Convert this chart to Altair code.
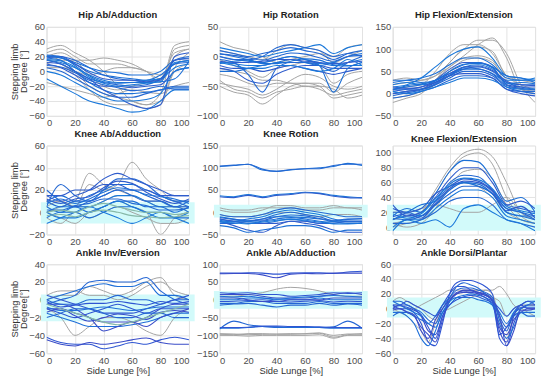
import altair as alt
import pandas as pd

X11 = [0, 10, 20, 30, 40, 50, 60, 70, 80, 90, 100]
X21 = list(range(0, 101, 5))

# ---------------- Hip Ab/Adduction ----------------
HIP_ABD_GRAY = [
    [30, 35, 25, 15, 0, -20, -40, -45, -30, 30, 35],
    [10, 15, 15, 15, 18, 15, 10, 0, -10, 20, 30],
    [20, 15, 0, -20, -30, -35, -40, -45, -40, 5, 25],
    [5, 5, 0, -5, 0, 5, 5, 0, -5, 10, 15],
    [15, 10, -5, -25, -40, -45, -45, -50, -45, 0, 10],
    [-15, -20, -25, -30, -35, -30, -25, -28, -30, -20, -15],
    [20, 25, 15, -5, -20, -25, -20, -15, -10, 25, 30],
    [25, 30, 20, 10, 10, 10, 5, 0, -15, 35, 40],
]
HIP_ABD_BLUE = [
    [20, 18, 10, 0, -5, -8, -10, -12, -5, 10, 15],
    [22, 20, 15, 5, -5, -10, -12, -13, -10, 15, 20],
    [15, 12, 5, -5, -12, -15, -15, -12, -10, 5, 10],
    [10, 5, -5, -15, -20, -20, -22, -20, -18, 0, 5],
    [18, 15, 0, -15, -25, -30, -30, -28, -25, -22, -22],
    [5, 0, -10, -20, -30, -35, -35, -30, -25, -20, -20],
    [-10, -20, -30, -40, -45, -50, -55, -52, -40, -25, -25],
    [12, 10, 0, -10, -25, -35, -45, -50, -45, 20, 25],
    [20, 18, 12, 5, 0, -2, -5, -5, 0, 15, 18],
    [15, 10, 0, -10, -15, -18, -20, -18, -10, 10, 12],
    [0, -5, -15, -25, -35, -40, -40, -38, -30, 0, 5],
    [18, 20, 10, -2, -10, -12, -12, -14, -12, 15, 17],
    [21, 19, 8, -6, -14, -16, -15, -15, -14, -10, 14],
    [8, 6, -2, -12, -18, -22, -26, -24, -20, -24, -24],
    [16, 14, 6, -8, -16, -20, -18, -16, -14, 12, 14],
]

# ---------------- Hip Rotation ----------------
HIP_ROT_GRAY = [
    [25, 15, 10, 0, -10, -5, 0, 5, 0, 15, 20],
    [-40, -55, -60, -70, -60, -55, -50, -55, -65, -60, -55],
    [-50, -60, -65, -80, -65, -50, -45, -50, -70, -65, -60],
    [-45, -50, -55, -65, -55, -40, -30, -35, -50, -55, -50],
    [-20, -25, -30, -40, -40, -45, -45, -45, -60, -45, -35],
    [-5, -15, -25, -35, -20, -15, -10, -15, -45, -30, -25],
    [10, 5, 0, -5, 10, 20, 15, 10, -10, 0, 10],
    [-30, -35, -45, -50, -45, -45, -50, -50, -55, -70, -65],
]
HIP_ROT_BLUE = [
    [0, -5, -8, -10, -5, 0, -5, -10, -15, -10, -5],
    [10, 5, 0, 5, 10, 15, 10, 5, -5, 5, 10],
    [-10, -12, -15, -15, -10, -10, -10, -12, -10, -15, -15],
    [-20, -25, -40, -45, -30, -20, -15, -15, -20, -20, -20],
    [5, 0, -5, -10, -5, 0, -5, -15, -60, -20, -10],
    [-5, -10, -30, -60, -20, -10, -10, -15, -25, -10, 0],
    [15, 10, 5, 0, 5, 10, 15, 20, 5, 15, 20],
    [-15, -20, -20, -25, -20, -15, -20, -25, -30, -25, -20],
    [-25, -25, -20, -15, -10, -5, -10, -15, -10, 0, 5],
    [0, -5, -5, 0, 15, 20, 15, 10, 0, 5, 0],
    [-10, -15, -20, -20, -15, -15, -20, -25, -20, -5, -15],
    [-8, -10, -10, -8, -5, -5, -8, -10, -12, -10, -8],
    [-12, -8, -6, -12, -12, -8, -4, -6, -14, -16, -10],
    [4, 2, -2, -6, 0, 6, 4, -2, -8, 0, 2],
]

# ---------------- Hip Flexion/Extension ----------------
HIP_FLEX_GRAY = [
    [-20, -10, 0, 30, 70, 100, 120, 120, 90, 20, -20],
    [10, 15, 20, 50, 90, 110, 110, 90, 40, 20, 10],
    [0, 5, 10, 30, 60, 85, 110, 125, 80, 10, 0],
    [30, 35, 30, 40, 70, 100, 105, 95, 40, 30, 25],
    [-10, -5, 5, 20, 50, 75, 80, 70, 30, 10, 0],
    [20, 25, 30, 40, 60, 80, 85, 75, 20, 10, 5],
]
HIP_FLEX_BLUE = [
    [10, 15, 20, 30, 45, 55, 55, 45, 25, 15, 10],
    [0, 5, 10, 20, 35, 50, 50, 40, 15, 5, 0],
    [20, 25, 20, 25, 40, 60, 65, 55, 30, 30, 35],
    [5, 10, 15, 30, 55, 70, 70, 60, 20, 15, 15],
    [25, 30, 35, 45, 65, 80, 80, 65, 35, 30, 30],
    [-10, -5, 5, 15, 30, 40, 40, 35, 10, 5, 5],
    [15, 20, 35, 60, 85, 100, 105, 80, 40, 35, 30],
    [0, 5, 10, 25, 40, 45, 45, 35, 10, 0, -5],
    [30, 30, 25, 30, 50, 65, 70, 60, 40, 35, 25],
    [10, 10, 10, 20, 40, 55, 60, 50, 25, 20, 20],
    [5, 0, 5, 15, 25, 35, 35, 30, 15, 10, 10],
    [15, 12, 15, 25, 45, 60, 62, 52, 28, 20, 18],
    [8, 18, 22, 28, 50, 66, 68, 58, 22, 25, 22],
    [-5, 2, 8, 22, 42, 58, 56, 44, 18, 12, 8],
]

# ---------------- Knee Ab/Adduction ----------------
KNEE_ABD_GRAY = [
    [5, 10, 5, 25, 20, 25, 45, 30, 20, 10, 10],
    [0, 5, 10, 35, 25, 20, 15, 10, 5, 5, 0],
    [0, -5, -10, 0, 5, 10, 5, 0, -20, -5, 0],
    [10, 10, 5, 5, 10, 15, 15, 10, 10, 5, 5],
    [-5, -10, 0, -5, 0, 5, 0, -5, -10, -10, -5],
]
KNEE_ABD_GREEN = [
    [0, 2, 0, 5, 8, 5, 2, 0, 0, -2, 0],
    [-3, -2, -4, 0, 2, 0, -3, -4, -5, -4, -3],
]
KNEE_ABD_BLUE = [
    [10, 15, 10, 15, 20, 25, 25, 20, 15, 10, 10],
    [5, 25, 15, 10, 20, 30, 30, 25, 15, 10, 5],
    [0, 5, 5, 5, 10, 15, 15, 10, 5, 5, 0],
    [15, 10, 15, 20, 30, 35, 30, 25, 20, 15, 15],
    [-5, 0, 0, -5, 0, 5, 5, 0, 0, -5, -5],
    [10, 5, 10, 10, 15, 20, 20, 15, 10, 5, 10],
    [-10, -5, 0, 5, 0, -5, -10, -5, 0, -5, -10],
    [15, 15, 20, 20, 25, 25, 20, 20, 15, 15, 15],
    [5, 0, 5, 0, 5, 10, 10, 5, 5, 0, 5],
    [20, 10, 5, 10, 15, 20, 15, 10, 10, 5, 5],
    [0, -5, -5, 0, 5, 10, 5, 0, -5, -5, 0],
    [12, 8, 12, 14, 22, 28, 26, 18, 12, 8, 12],
    [8, 12, 8, 12, 18, 22, 20, 16, 14, 12, 8],
    [2, 2, 6, 8, 12, 12, 8, 6, 2, 2, 4],
]

# ---------------- Knee Rotation ----------------
KNEE_ROT_GRAY = [
    [10, 5, 5, 10, 10, 10, 5, 5, 10, 10, 5],
    [5, 0, 0, 5, 15, 15, 10, 10, 15, 10, 10],
    [-5, -10, -10, -5, 0, 0, -5, -10, -5, -5, -10],
]
KNEE_ROT_BLUE = [
    [103, 105, 108, 95, 92, 95, 98, 100, 103, 110, 105],
    [104, 106, 108, 97, 92, 96, 98, 98, 105, 108, 108],
    [37, 35, 40, 35, 40, 42, 45, 43, 38, 35, 33],
    [35, 33, 38, 33, 38, 40, 44, 42, 36, 33, 32],
    [-15, -20, -20, -15, -10, -10, -12, -15, -20, -20, -20],
    [-25, -25, -20, -15, -5, 0, -5, -10, -20, -25, -25],
    [-10, -15, -20, -25, -20, -15, -20, -25, -20, -15, -15],
    [-20, -30, -40, -45, -30, -20, -25, -30, -40, -45, -45],
    [-30, -35, -45, -40, -35, -30, -30, -35, -45, -40, -40],
    [-5, -10, -10, -5, 5, 10, 5, 0, -5, -10, -10],
    [-20, -20, -15, -10, 0, 5, 0, -5, -15, -20, -20],
    [-15, -20, -25, -25, -25, -20, -20, -25, -25, -20, -20],
    [-18, -22, -22, -20, -15, -12, -15, -20, -22, -22, -22],
    [-12, -16, -18, -18, -10, -6, -8, -14, -18, -16, -14],
    [-22, -24, -26, -22, -18, -16, -18, -22, -26, -26, -24],
]

# ---------------- Knee Flexion/Extension ----------------
KNEE_FLEX_GRAY = [
    [5, 10, 20, 50, 80, 100, 105, 95, 60, 20, 10],
    [10, 15, 20, 45, 75, 95, 100, 85, 40, 15, 5],
    [0, 5, 10, 30, 50, 60, 55, 40, 20, 10, 5],
    [20, 20, 25, 30, 25, 20, 20, 30, 40, 20, 10],
    [5, 0, 5, 25, 55, 75, 78, 65, 30, 10, 5],
]
KNEE_FLEX_BLUE = [
    [10, 15, 15, 30, 50, 60, 58, 45, 20, 15, 10],
    [20, 20, 15, 35, 60, 70, 68, 50, 25, 20, 15],
    [0, 10, 10, 25, 40, 50, 50, 40, 15, 10, 5],
    [30, 15, 20, 40, 65, 80, 80, 60, 30, 25, 20],
    [15, 25, 20, 45, 75, 90, 88, 65, 35, 40, 20],
    [5, 5, 10, 20, 35, 40, 40, 30, 10, 5, 0],
    [-5, 10, 5, 10, 0, 25, 30, 20, 10, 5, -5],
    [25, 20, 25, 45, 55, 65, 62, 50, 30, 35, 25],
    [10, 20, 30, 35, 55, 60, 55, 45, 20, 15, 15],
    [12, 10, 15, 30, 45, 55, 55, 45, 25, 20, 10],
    [18, 12, 18, 38, 58, 66, 64, 52, 28, 22, 18],
    [14, 18, 12, 32, 52, 62, 60, 48, 22, 28, 12],
]

# ---------------- Ankle Inv/Eversion ----------------
ANK_INV_GRAY = [
    [0, 5, 5, 15, 10, 5, 10, 20, 25, 5, 0],
    [-10, -20, -40, -30, -20, -20, -25, -35, -40, -20, -10],
    [5, 10, 10, 5, 5, 0, 5, 15, 20, 10, 5],
]
ANK_INV_GREEN = [
    [-5, -10, -15, -20, -25, -28, -25, -20, -15, -10, -5],
]
ANK_INV_BLUE = [
    [-42, -48, -50, -50, -55, -52, -48, -50, -45, -42, -45],
    [-45, -50, -52, -48, -50, -48, -45, -43, -48, -50, -50],
    [-5, 0, 5, 20, 22, 20, 20, 25, 10, 0, -5],
    [0, 5, 10, 15, 18, 15, 15, 20, 5, 5, 0],
    [-10, -15, -20, -15, -10, -5, -10, -15, -10, -10, -10],
    [-5, -5, -10, -20, -25, -25, -25, -20, -10, -5, -5],
    [0, -5, -5, 0, 0, 5, 0, 0, -5, 0, 0],
    [-15, -20, -25, -30, -30, -30, -28, -25, -20, -15, -15],
    [5, 0, -5, -10, -15, -15, -15, -10, -5, 0, 5],
    [-10, -10, -15, -20, -35, -30, -25, -30, -20, -15, -10],
    [-20, -15, -10, -10, -15, -20, -20, -15, -15, -20, -20],
    [-8, -12, -12, -10, -8, -10, -12, -10, -8, -8, -8],
    [-2, -8, -6, -4, -4, -2, -4, -6, -2, -4, -2],
    [-14, -10, -18, -24, -20, -16, -18, -22, -14, -12, -14],
]

# ---------------- Ankle Ab/Adduction ----------------
ANK_ABD_GRAY = [
    [-95, -96, -98, -97, -96, -95, -96, -94, -105, -98, -95],
    [-100, -100, -102, -100, -100, -100, -100, -98, -108, -100, -100],
    [-97, -98, -95, -95, -97, -97, -95, -93, -100, -96, -97],
    [10, 10, 15, 20, 30, 35, 32, 25, 15, 10, 10],
]
ANK_ABD_BLUE = [
    [75, 75, 76, 75, 72, 75, 76, 76, 74, 78, 80],
    [73, 74, 74, 70, 62, 72, 74, 73, 75, 75, 75],
    [-82, -60, -70, -75, -78, -78, -78, -78, -76, -60, -80],
    [-80, -80, -78, -75, -76, -77, -77, -78, -80, -80, -80],
    [-78, -78, -77, -74, -74, -75, -75, -76, -78, -78, -78],
    [15, 15, 15, 10, 5, 5, 5, 10, 15, 20, 15],
    [-10, -10, -5, -5, -10, -10, -10, -5, -10, -10, -10],
    [0, 0, 5, 5, 0, 0, 0, 5, 0, 0, 0],
    [20, 18, 20, 15, 15, 10, 12, 15, 20, 18, 20],
    [5, 5, 0, -5, -5, 0, 0, 0, 5, 5, 5],
    [-15, -12, -10, -15, -20, -15, -15, -10, -15, -12, -15],
    [10, 8, 10, 5, 2, 5, 8, 10, 12, 10, 8],
    [-5, -4, -2, 0, -4, -6, -4, -2, -6, -4, -5],
]

# ---------------- Ankle Dorsi/Plantar ----------------
ANK_DP_GRAY = [
    [10, 15, 10, 5, 0, -10, -15, 5, 15, 20, 22, 25, 25, 25, 25, 30, 20, 5, 0, 5, 5],
    [0, -5, -10, -20, -30, -45, -20, -5, 0, 5, 10, 15, 20, 25, 20, -15, -40, -10, 0, -5, -10],
    [5, 5, 0, 0, 5, 10, 15, 20, 25, 25, 25, 25, 25, 20, 15, 10, -10, 0, 5, 5, 5],
]
ANK_DP_BLUE = [
    [5, 0, 0, -5, -20, -45, -50, -20, 20, 35, 38, 38, 35, 30, 20, -40, -50, -20, 0, 5, 5],
    [0, 5, 5, 0, -10, -30, -35, -10, 10, 20, 25, 25, 22, 20, 10, -30, -45, -10, 5, 0, 0],
    [10, 10, 5, 0, -5, -15, -20, 0, 15, 25, 28, 28, 25, 22, 15, -15, -30, -5, 5, 10, 10],
    [-5, -5, -10, -20, -40, -50, -30, -5, 5, 15, 18, 20, 18, 15, 5, -20, -40, -25, -5, -5, -5],
    [5, 5, 10, 5, 0, -5, -10, 5, 20, 30, 30, 25, 20, 15, 10, 0, -10, 0, 5, 10, 5],
    [0, 0, -5, -10, -25, -35, -45, -15, 10, 20, 22, 22, 20, 18, 12, -25, -35, -15, -5, 0, 0],
    [-10, -5, -5, -10, -15, -20, -10, 5, 15, 30, 35, 32, 28, 20, 10, -10, -25, -10, -5, -10, -10],
    [10, 5, 0, -5, -10, -20, -25, -5, 10, 15, 15, 15, 12, 10, 5, -5, -20, -5, 0, 5, 10],
    [2, 4, 2, -2, -8, -25, -40, -10, 5, 12, 16, 18, 16, 12, 8, -35, -25, -8, 2, 2, 2],
    [-2, 0, -4, -8, -30, -40, -15, 0, 12, 22, 24, 24, 22, 18, 12, -8, -50, -30, -2, -2, 0],
]

TITLES = ["Hip Ab/Adduction", "Hip Rotation", "Hip Flexion/Extension",
          "Knee Ab/Adduction", "Knee Rotion", "Knee Flexion/Extension",
          "Ankle Inv/Eversion", "Ankle Ab/Adduction", "Ankle Dorsi/Plantar"]
Y_DOMAINS = [[-60, 60], [-100, 50], [-50, 150],
             [-20, 60], [-50, 150], [-10, 110],
             [-60, 40], [-150, 100], [-60, 60]]
Y_TICKS = [list(range(-60, 61, 20)), list(range(-100, 51, 50)), list(range(-50, 151, 50)),
           list(range(-20, 61, 20)), list(range(-50, 151, 50)), list(range(0, 101, 20)),
           list(range(-60, 41, 20)), list(range(-150, 101, 50)), list(range(-60, 61, 20))]
X_TICKS = [0, 20, 40, 60, 80, 100]
BANDS = [None, None, None, [-10, 9], [-12, 17], [-5, 30], [-24, 6], [-25, 25], [-12, 15]]
Y_TITLES = [["Stepping limb", "Degree [°]"], None, None,
            ["Stepping limb", "Degree [°]"], None, None,
            ["Stepping limb", "Degree[°]"], None, None]

GRAY = "#a3a3a3"
GREEN = "#86b8a8"
BLUE_ROW = ["#1c6fd6", "#2468d2", "#1a78da", "#2f5ccc"]
BLUE_LOW = ["#2f55d2", "#3a4cc8", "#2466d4", "#1f6fd8"]

panels = [
    (X11, HIP_ABD_GRAY, [], HIP_ABD_BLUE, BLUE_ROW),
    (X11, HIP_ROT_GRAY, [], HIP_ROT_BLUE, BLUE_ROW),
    (X11, HIP_FLEX_GRAY, [], HIP_FLEX_BLUE, BLUE_ROW),
    (X11, KNEE_ABD_GRAY, KNEE_ABD_GREEN, KNEE_ABD_BLUE, BLUE_ROW),
    (X11, KNEE_ROT_GRAY, [], KNEE_ROT_BLUE, BLUE_ROW),
    (X11, KNEE_FLEX_GRAY, [], KNEE_FLEX_BLUE, BLUE_ROW),
    (X11, ANK_INV_GRAY, ANK_INV_GREEN, ANK_INV_BLUE, BLUE_LOW),
    (X11, ANK_ABD_GRAY, [], ANK_ABD_BLUE, BLUE_LOW),
    (X21, ANK_DP_GRAY, [], ANK_DP_BLUE, BLUE_LOW),
]


def frame(xs, curves, colors, tag):
    rows = []
    for i, c in enumerate(curves):
        for x, y in zip(xs, c):
            rows.append({"x": x, "y": y, "id": f"{tag}{i:02d}", "col": colors[i % len(colors)]})
    return pd.DataFrame(rows, columns=["x", "y", "id", "col"])


charts = []
for k, (xs, gray, green, blue, bcols) in enumerate(panels):
    row = k // 3
    yax_kwargs = dict(values=Y_TICKS[k], grid=True, gridColor="#e3e3e3", ticks=False, domain=False,
                      labelFontSize=9.5, labelColor="#4d4d4d", labelPadding=2,
                      titleFontSize=9.5, titleFontWeight="normal", titleColor="#333333",
                      titlePadding=0, titleLineHeight=9.5)
    if k in (6, 7):
        yax_kwargs["labelColor"] = {"condition": {"test": "datum.value === 0", "value": "#2ea37a"},
                                    "value": "#4d4d4d"}
    yax = alt.Axis(**yax_kwargs)
    xax = alt.Axis(values=X_TICKS, grid=True, gridColor="#e3e3e3", ticks=False, domain=False,
                   labelFontSize=9.5, labelColor="#4d4d4d", labelPadding=2,
                   titleFontSize=9.5, titleFontWeight="normal", titleColor="#333333", titlePadding=1)
    xt = "Side Lunge [%]" if row == 2 else None
    yt = Y_TITLES[k]
    xenc = alt.X("x:Q", scale=alt.Scale(domain=[0, 100], nice=False), axis=xax, title=xt)
    yenc = alt.Y("y:Q", scale=alt.Scale(domain=Y_DOMAINS[k], nice=False), axis=yax, title=yt)

    layers = []
    if BANDS[k] is not None:
        bdf = pd.DataFrame({"x": [-4], "x2": [104], "y": [BANDS[k][0]], "y2": [BANDS[k][1]]})
        layers.append(alt.Chart(bdf).mark_rect(color="#d2fafa").encode(
            x=xenc, x2="x2:Q", y=yenc, y2="y2:Q"))
    gdf = frame(xs, gray, [GRAY], "a")
    layers.append(alt.Chart(gdf).mark_line(strokeWidth=1, interpolate="monotone", clip=True).encode(
        x=xenc, y=yenc, detail="id:N", color=alt.Color("col:N", scale=None)))
    bdf2 = frame(xs, blue, bcols, "b")
    layers.append(alt.Chart(bdf2).mark_line(strokeWidth=1.1, interpolate="monotone", clip=True).encode(
        x=xenc, y=yenc, detail="id:N", color=alt.Color("col:N", scale=None)))
    if green:
        gr = frame(xs, green, [GREEN], "c")
        layers.append(alt.Chart(gr).mark_line(strokeWidth=1.2, interpolate="monotone", clip=True).encode(
            x=xenc, y=yenc, detail="id:N", color=alt.Color("col:N", scale=None)))
    ch = alt.layer(*layers).properties(
        width=144, height=90,
        title=alt.TitleParams(TITLES[k], fontSize=9.5, fontWeight="bold", color="#222222",
                              offset=2, font="Liberation Sans"))
    charts.append(ch)

chart = alt.concat(*charts, columns=3, spacing=alt.RowColnumber(row=30, column=31), bounds="flush").properties(
    padding={"left": 0, "top": 0, "right": 0, "bottom": 0}
).configure_view(
    stroke="#444444", strokeWidth=0.8
).configure(
    font="Liberation Sans"
)

chart.save("out.html", embed_options={"renderer": "svg", "actions": False})
